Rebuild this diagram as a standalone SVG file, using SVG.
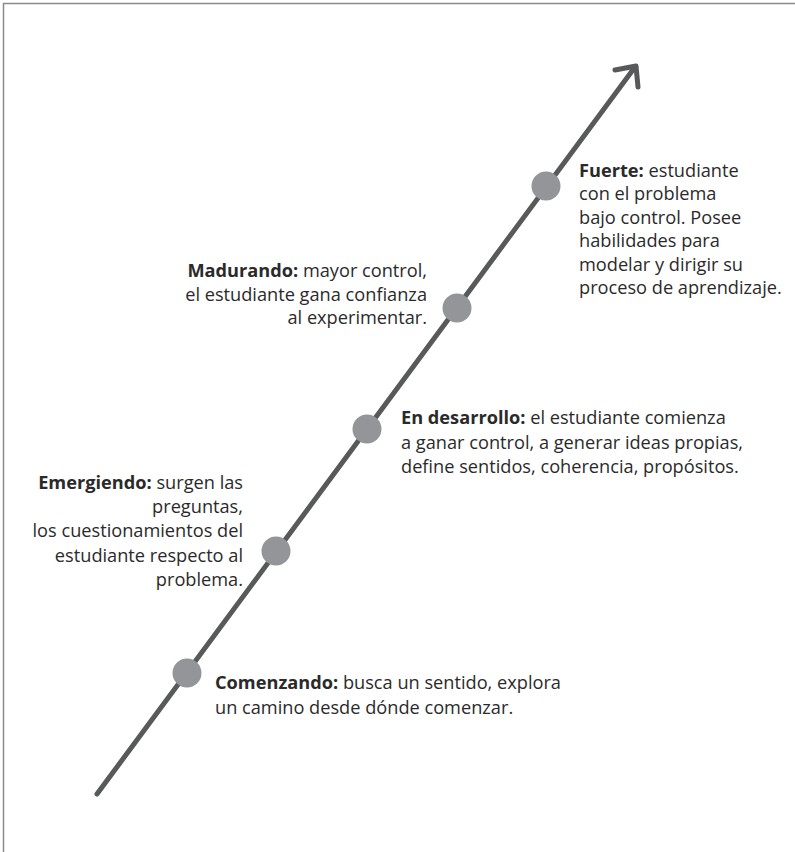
<svg xmlns="http://www.w3.org/2000/svg" width="795" height="852" viewBox="0 0 795 852">
<style>
.t{font-family:"Open Sans","Noto Sans","Liberation Sans",sans-serif;font-size:18.2px;fill:#2b2a2b}
.b{font-weight:bold}
.r{text-anchor:end}
.dot{fill:#939598}
.ln{stroke:#58595b;stroke-width:5;fill:none;stroke-linecap:round;stroke-linejoin:round}
</style>
<rect width="795" height="852" fill="#fff"/>
<path d="M3.5 852 V3.5 H795" fill="none" stroke="#8a8a8a" stroke-width="1.5"/>
<g id="connectors">
<line class="ln" x1="97" y1="794" x2="635" y2="67"/>
<polyline class="ln" points="615,70 636,66 638,87"/>
</g>
<g id="fuerte">
<circle class="dot" cx="546" cy="186" r="14.5"/>
<text class="t" x="579" y="177"><tspan class="b">Fuerte:</tspan> estudiante</text>
<text class="t" x="579" y="200.4">con el problema</text>
<text class="t" x="579" y="223.8">bajo control. Posee</text>
<text class="t" x="579" y="247.2">habilidades para</text>
<text class="t" x="579" y="270.6">modelar y dirigir su</text>
<text class="t" x="579" y="294">proceso de aprendizaje.</text>
</g>
<g id="madurando">
<circle class="dot" cx="457" cy="308" r="14.5"/>
<text class="t r" x="427" y="277"><tspan class="b">Madurando:</tspan> mayor control,</text>
<text class="t r" x="427" y="300.5">el estudiante gana confianza</text>
<text class="t r" x="427" y="324">al experimentar.</text>
</g>
<g id="desarrollo">
<circle class="dot" cx="367" cy="429" r="14.5"/>
<text class="t" x="401" y="424"><tspan class="b">En desarrollo:</tspan> el estudiante comienza</text>
<text class="t" x="401" y="448.5">a ganar control, a generar ideas propias,</text>
<text class="t" x="401" y="473">define sentidos, coherencia, propósitos.</text>
</g>
<g id="emergiendo">
<circle class="dot" cx="276" cy="551" r="14.5"/>
<text class="t r" x="243" y="489"><tspan class="b">Emergiendo:</tspan> surgen las</text>
<text class="t r" x="243" y="513">preguntas,</text>
<text class="t r" x="243" y="537">los cuestionamientos del</text>
<text class="t r" x="243" y="561.5">estudiante respecto al</text>
<text class="t r" x="243" y="586">problema.</text>
</g>
<g id="comenzando">
<circle class="dot" cx="187" cy="673" r="14.5"/>
<text class="t" x="215" y="689"><tspan class="b">Comenzando:</tspan> busca un sentido, explora</text>
<text class="t" x="215" y="714">un camino desde dónde comenzar.</text>
</g>
</svg>
